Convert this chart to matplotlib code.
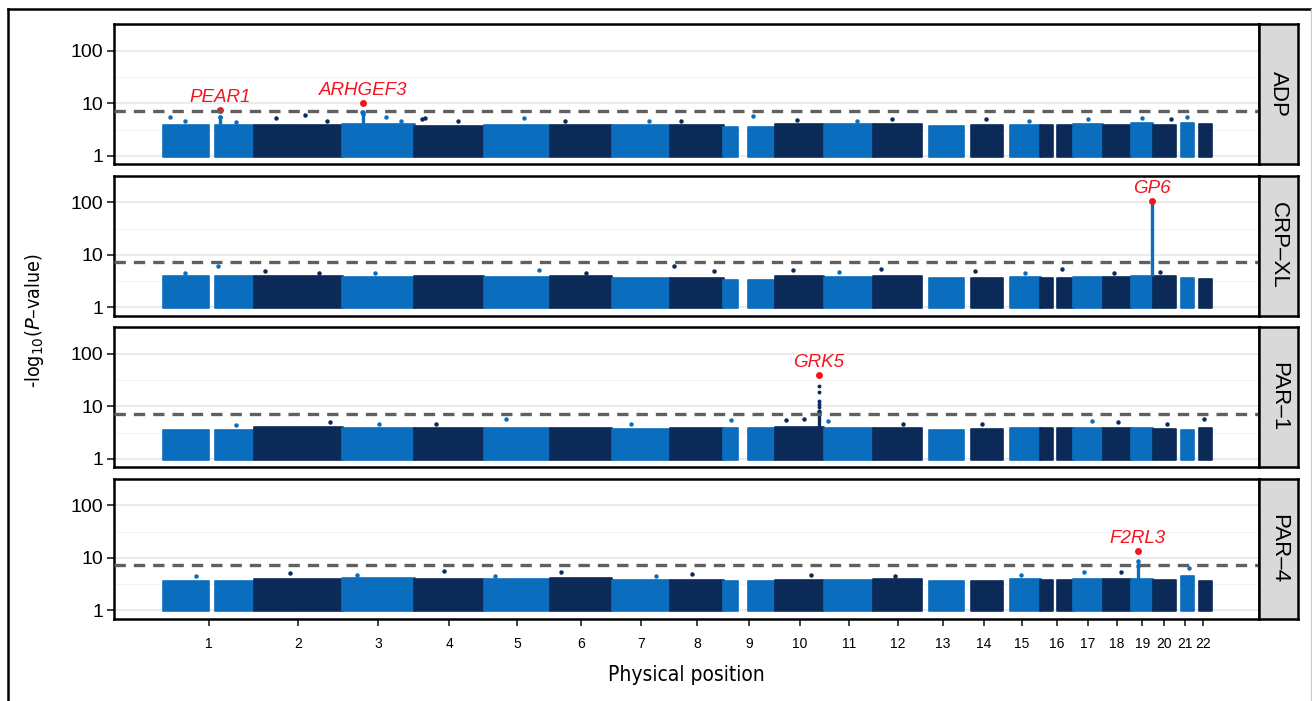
import numpy as np
import matplotlib
matplotlib.use("Agg")
import matplotlib.pyplot as plt
from matplotlib import font_manager
from matplotlib.font_manager import FontProperties
from matplotlib.lines import Line2D

# chromosome lengths in Mb (hg19)
chrom_len = [249.3, 243.2, 198.0, 191.2, 180.9, 171.1, 159.1, 146.4, 141.2, 135.5, 135.0,
             133.9, 115.2, 107.3, 102.5, 90.4, 81.2, 78.1, 59.1, 63.0, 48.1, 51.3]
chrom_names = [str(i) for i in range(1, 23)]
# first SNP position per chromosome (acrocentric p-arms have none)
data_start = [0.8, 0.1, 0.1, 0.1, 0.1, 0.2, 0.1, 0.2, 0.2, 0.1, 0.2,
              0.2, 19.0, 20.0, 20.0, 0.1, 0.1, 0.1, 0.3, 0.1, 15.0, 17.0]
# regions without SNPs (centromere / heterochromatin)
gaps = {1: (125, 144), 2: (92, 95), 9: (40, 67), 16: (35, 46)}

panels = ["ADP", "CRP\u2013XL", "PAR\u20131", "PAR\u20134"]
threshold = 7.3  # -log10(5e-8)

# top of the dense cloud of points for each chromosome
adp_top = [3.9, 3.8, 4.0, 3.7, 3.9, 3.8, 3.9, 3.8, 3.6, 4.1, 4.0,
           4.0, 3.7, 3.8, 3.9, 3.8, 4.0, 3.9, 4.2, 3.9, 4.3, 4.0]
crp_top = [3.9, 4.0, 3.8, 3.9, 3.8, 3.9, 3.6, 3.7, 3.4, 3.9, 3.8,
           3.9, 3.6, 3.7, 3.8, 3.7, 3.8, 3.8, 3.9, 4.0, 3.7, 3.5]
par1_top = [3.6, 4.0, 3.9, 3.9, 3.8, 3.8, 3.7, 3.9, 3.8, 4.0, 3.9,
            3.9, 3.5, 3.7, 3.8, 3.8, 3.9, 3.8, 3.8, 3.7, 3.6, 3.9]
par4_top = [3.6, 4.0, 4.1, 3.9, 3.9, 4.1, 3.8, 3.8, 3.7, 3.8, 3.8,
            3.9, 3.7, 3.6, 3.9, 3.8, 4.0, 4.0, 4.0, 3.8, 4.6, 3.7]
band_tops = [adp_top, crp_top, par1_top, par4_top]

# isolated SNPs above the cloud: (chromosome, Mb, -log10 p)
adp_extra = [(1, 20, 5.5), (1, 60, 4.6), (1, 157, 5.6), (1, 200, 4.5), (2, 60, 5.3),
             (2, 140, 6.0), (2, 200, 4.6), (3, 55, 7.0), (3, 57, 6.4), (3, 120, 5.6),
             (3, 160, 4.7), (4, 20, 5.0), (4, 30, 5.3), (4, 120, 4.6), (5, 110, 5.2),
             (6, 40, 4.6), (7, 100, 4.7), (8, 30, 4.6), (9, 80, 5.8), (10, 60, 4.8),
             (11, 90, 4.7), (12, 50, 5.0), (14, 60, 5.0), (15, 70, 4.6), (17, 40, 5.1),
             (19, 30, 5.3), (20, 50, 5.0), (21, 30, 5.5)]
crp_extra = [(1, 150, 6.2), (1, 60, 4.6), (2, 30, 5.0), (2, 180, 4.5), (3, 90, 4.6),
             (5, 150, 5.2), (6, 100, 4.6), (8, 10, 6.1), (8, 120, 5.0), (10, 50, 5.2),
             (11, 40, 4.7), (12, 20, 5.4), (14, 30, 5.0), (15, 60, 4.6), (16, 60, 5.4),
             (18, 30, 4.6), (20, 20, 4.8)]
par1_extra = [(1, 200, 4.5), (2, 210, 5.0), (3, 100, 4.7), (4, 60, 4.6), (5, 60, 5.8),
              (7, 50, 4.6), (9, 20, 5.5), (10, 30, 5.5), (10, 80, 5.8), (11, 10, 5.3),
              (12, 80, 4.7), (14, 50, 4.6), (17, 50, 5.2), (18, 40, 5.0), (20, 40, 4.6),
              (22, 30, 5.8)]
par4_extra = [(1, 90, 4.5), (2, 100, 5.2), (3, 40, 4.8), (4, 80, 5.6), (5, 30, 4.6),
              (6, 30, 5.5), (7, 120, 4.6), (8, 60, 5.0), (10, 100, 4.7), (12, 60, 4.6),
              (15, 50, 4.7), (17, 30, 5.5), (18, 50, 5.5), (19, 17, 7.0), (21, 35, 6.5)]
extras = [adp_extra, crp_extra, par1_extra, par4_extra]

# associated loci: (chromosome, Mb, column low, column high, lead SNP value, gene)
hits = [
    [(1, 156.9, 4.0, 5.6, 7.6, "PEAR1"), (3, 56.8, 4.0, 7.0, 10.2, "ARHGEF3")],
    [(19, 55.5, 4.0, 100.0, 105.0, "GP6")],
    [(10, 121.0, 4.0, 8.0, 40.0, "GRK5")],
    [(19, 16.9, 4.0, 8.6, 13.3, "F2RL3")],
]
grk5_dots = [8.3, 9.8, 11.2, 12.9, 18.9, 24.9]

light = "#0a6dbd"
dark = "#0b2a58"
red = "#f5141e"

# a condensed face for the axis titles, if one is installed
narrow_file = None
for f in font_manager.fontManager.ttflist:
    low = f.fname.lower()
    if ("narrow" in low or "condensed" in low) and "bold" not in low and "italic" not in low \
            and "oblique" not in low and "mono" not in low and "serif" not in low:
        narrow_file = f.fname
        break
if narrow_file:
    title_fp = FontProperties(fname=narrow_file)
    title_scale = 1.0
else:
    title_fp = FontProperties(family="Liberation Sans")
    title_scale = 0.85

plt.rcParams["font.family"] = ["Liberation Sans", "DejaVu Sans"]

offsets = np.concatenate([[0], np.cumsum(chrom_len)[:-1]])
centers = offsets + np.array(chrom_len) / 2

W, H = 1312, 701
fig = plt.figure(figsize=(W / 100, H / 100), dpi=100)

left, right = 114, 1259
ptops = [24, 175.5, 327, 478.5]
ph = 140
for k, name in enumerate(panels):
    ax = fig.add_axes([left / W, 1 - (ptops[k] + ph) / H, (right - left) / W, ph / H])
    ax.set_yscale("log")
    ax.set_ylim(0.70, 327)
    ax.set_xlim(-135, 3010)
    for y in [1, 10, 100]:
        ax.axhline(y, color="#ebebeb", lw=1.4, zorder=0)
    for y in [10 ** 0.5, 10 ** 1.5, 10 ** 2.5]:
        ax.axhline(y, color="#f3f3f3", lw=0.8, zorder=0)

    for i in range(22):
        col = light if i % 2 == 0 else dark
        segs = [(data_start[i], chrom_len[i])]
        if i + 1 in gaps:
            g0, g1 = gaps[i + 1]
            segs = [(data_start[i], g0), (g1, chrom_len[i])]
        for s, e in segs:
            ax.fill_between([offsets[i] + s - 0.5, offsets[i] + e + 0.5], 0.96, band_tops[k][i],
                            facecolor=col, edgecolor=col, lw=1.2, joinstyle="round", zorder=2)

    for c, pos, val in extras[k]:
        col = light if c % 2 == 1 else dark
        ax.plot(offsets[c - 1] + pos, val, "o", ms=3.2, color=col, mec="none", zorder=3)

    for c, pos, lo, hi, lead, gene in hits[k]:
        col = light if c % 2 == 1 else dark
        x = offsets[c - 1] + pos
        ax.vlines(x, lo, hi, color=col, lw=2.4, zorder=3)
        ax.plot(x, hi, "o", ms=3.2, color=col, mec="none", zorder=3)
        if gene == "GRK5":
            ax.plot([x] * len(grk5_dots), grk5_dots, "o", ms=2.8, color=col, mec="none", zorder=3)
        ax.plot(x, lead, "o", ms=5, color=red, mec="none", zorder=4)
        ax.text(x, lead * 1.2, gene, color=red, fontsize=13.5, style="italic",
                ha="center", va="bottom", zorder=5)

    ax.axhline(threshold, color="#606060", lw=2.4, ls=(0, (3.4, 2.4)), zorder=4)

    ax.set_yticks([1, 10, 100])
    ax.set_yticklabels(["1", "10", "100"])
    ax.yaxis.set_minor_locator(matplotlib.ticker.NullLocator())
    ax.tick_params(axis="y", length=5, width=1.3, labelsize=14, pad=3, color="#333333")
    for sp in ax.spines.values():
        sp.set_linewidth(1.8)
        sp.set_color("black")
    if k < 3:
        ax.set_xticks([])
    else:
        ax.set_xticks(centers)
        ax.set_xticklabels(chrom_names)
        ax.tick_params(axis="x", length=5, width=1.3, labelsize=10, pad=8, color="#333333")

    sax = fig.add_axes([right / W, 1 - (ptops[k] + ph) / H, 39 / W, ph / H])
    sax.set_facecolor("#d9d9d9")
    sax.set_xticks([])
    sax.set_yticks([])
    for sp in sax.spines.values():
        sp.set_linewidth(1.8)
    sax.text(0.5, 0.5, name, rotation=-90, ha="center", va="center", fontsize=16,
             transform=sax.transAxes)

# y title in the condensed face
ylab_fp = title_fp.copy()
ylab_fp.set_size(14 * title_scale)
fig.text(35 / W, 1 - 321 / H, "-log$_{10}$($P$\u2013value)", rotation=90, ha="center",
         va="center", fontproperties=ylab_fp, math_fontfamily="dejavusans")
xlab_fp = title_fp.copy()
xlab_fp.set_size(15 * title_scale)
fig.text((left + right) / 2 / W, 1 - 675 / H, "Physical position", ha="center",
         va="center", fontproperties=xlab_fp)

# outer frame of the figure panel
fig.add_artist(Line2D([8 / W, 8 / W], [0, 1 - 9 / H], color="black", lw=1.8))
fig.add_artist(Line2D([8 / W, 1311 / W], [1 - 9 / H, 1 - 9 / H], color="black", lw=1.8))
fig.add_artist(Line2D([1311 / W, 1311 / W], [0, 1 - 9 / H], color="#cccccc", lw=1))

fig.savefig("out.png", dpi=100)
